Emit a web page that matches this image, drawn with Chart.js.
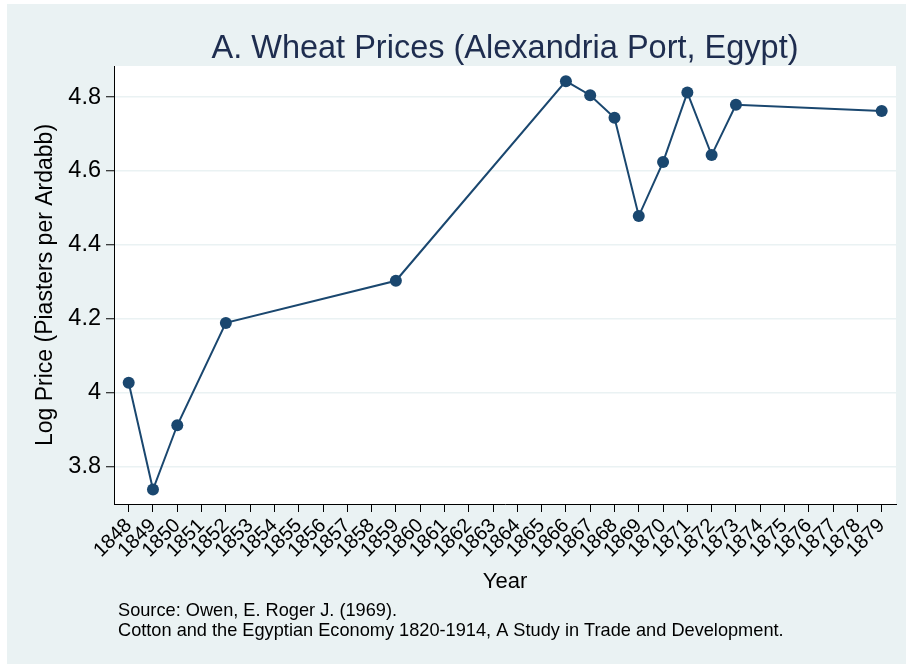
<!DOCTYPE html>
<html>
<head>
<meta charset="utf-8">
<script src="https://cdn.jsdelivr.net/npm/chart.js@4.4.1/dist/chart.umd.min.js"></script>
<style>
  html, body { margin: 0; padding: 0; background: #fff; }
  #wrap { position: absolute; left: 7px; top: 4px; width: 899px; height: 660px; background: #eaf2f3; }
</style>
</head>
<body>
<div id="wrap"><canvas id="myChart" width="899" height="660"></canvas></div>
<script>
// wheat prices, Alexandria port (log piasters per ardabb)
var years = [1848, 1849, 1850, 1852, 1859, 1866, 1867, 1868, 1869, 1870, 1871, 1872, 1873, 1879];
var logPrice = [4.027, 3.738, 3.912, 4.189, 4.303, 4.843, 4.805, 4.744, 4.478, 4.624, 4.812, 4.643, 4.779, 4.762];
var yearTicks = [];
for (var yr = 1848; yr <= 1879; yr++) yearTicks.push(yr);
var priceTicks = [3.8, 4, 4.2, 4.4, 4.6, 4.8];

var titleText = 'A. Wheat Prices (Alexandria Port, Egypt)';
var noteLines = ['Source: Owen, E. Roger J. (1969).',
  'Cotton and the Egyptian Economy 1820-1914, A Study in Trade and Development.'];

var navy = '#1a476f';
var font = '"Liberation Sans", Arial, Helvetica, sans-serif';

// white plot region, title on top, note below
var decor = {
  id: 'decor',
  beforeDraw: function(chart) {
    var a = chart.chartArea, ctx = chart.ctx;
    ctx.save();
    ctx.fillStyle = '#fff';
    ctx.fillRect(a.left, a.top, a.right - a.left, a.bottom - a.top);
    ctx.restore();
  },
  afterDraw: function(chart) {
    var a = chart.chartArea, ctx = chart.ctx;
    ctx.save();
    ctx.fillStyle = '#1e2d4f';
    ctx.font = '32.5px ' + font;
    ctx.textAlign = 'center';
    ctx.textBaseline = 'alphabetic';
    ctx.fillText(titleText, (a.left + a.right) / 2, 54);
    ctx.fillStyle = '#000';
    ctx.font = '18.2px ' + font;
    ctx.textAlign = 'left';
    ctx.fillText(noteLines[0], a.left + 4, 612);
    ctx.fillText(noteLines[1], a.left + 4, 632);
    ctx.restore();
  }
};

var ctx = document.getElementById('myChart').getContext('2d');
var myChart = new Chart(ctx, {
  type: 'line',
  data: {
    datasets: [{
      label: 'Log Price',
      data: years.map(function(y, i) { return {x: y, y: logPrice[i]}; }),
      borderColor: navy,
      backgroundColor: navy,
      borderWidth: 2,
      pointRadius: 6,
      pointBackgroundColor: navy,
      pointBorderWidth: 0,
      tension: 0
    }]
  },
  options: {
    responsive: false,
    animation: false,
    layout: { padding: { top: 62, right: 10, bottom: 69, left: 0 } },
    plugins: { legend: { display: false }, tooltip: { enabled: false }, title: { display: false } },
    scales: {
      x: {
        type: 'linear',
        min: 1847.395,
        max: 1879.59,
        afterBuildTicks: function(s) { s.ticks = yearTicks.map(function(v) { return {value: v}; }); },
        afterFit: function(s) { s.height = 91; },
        grid: { drawOnChartArea: false, tickLength: 8, tickColor: '#000', tickWidth: 1 },
        border: { color: '#000', width: 1 },
        ticks: {
          autoSkip: false, minRotation: 45, maxRotation: 45, padding: 2,
          color: '#000', font: { family: font, size: 20 },
          callback: function(v) { return String(v); }
        },
        title: { display: true, text: 'Year', color: '#000', font: { family: font, size: 22 }, padding: 0 }
      },
      y: {
        min: 3.699,
        max: 4.884,
        afterBuildTicks: function(s) { s.ticks = priceTicks.map(function(v) { return {value: v}; }); },
        afterFit: function(s) { s.width = 107; },
        grid: { color: '#eaf2f3', lineWidth: 1.5, tickLength: 8, tickColor: '#000', tickWidth: 1 },
        border: { color: '#000', width: 1 },
        ticks: {
          padding: 5, color: '#000', font: { family: font, size: 23.5 },
          callback: function(v) { return String(Math.round(v * 10) / 10); }
        },
        title: { display: true, text: 'Log Price (Piasters per Ardabb)', color: '#000',
          font: { family: font, size: 23 }, padding: { top: 25, bottom: 0 } }
      }
    }
  },
  plugins: [decor]
});
</script>
</body>
</html>
